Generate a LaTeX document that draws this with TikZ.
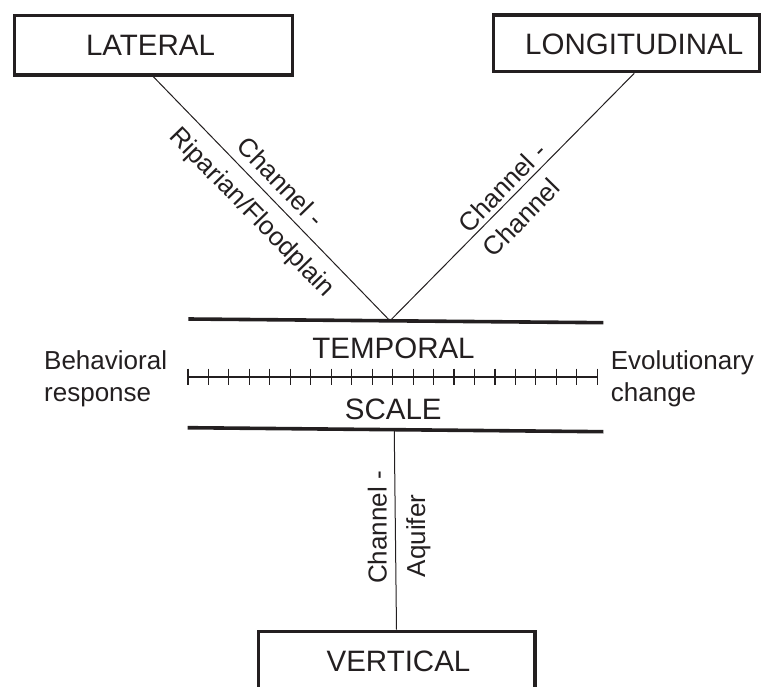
\documentclass[tikz,border=0pt]{standalone}
\usepackage{fontspec}
\setmainfont{Liberation Sans}
\definecolor{ink}{RGB}{35,31,32}
\begin{document}
\begin{tikzpicture}[x=1pt,y=-1pt,
  box/.style={draw=ink, line width=3.3pt, rectangle, inner sep=0pt},
  bar/.style={draw=ink, line width=3.6pt},
  thinline/.style={draw=ink, line width=1.1pt},
  conn/.style={draw=ink, line width=1pt},
  big/.style={inner sep=0pt, text=ink, font=\fontsize{29.5}{35}\selectfont},
  lbl/.style={inner sep=0pt, text=ink, font=\fontsize{26}{31}\selectfont}]
\useasboundingbox (0,0) rectangle (761,687);
\clip (0,0) rectangle (761,687);

% boxes
\node[box, minimum width=278pt, minimum height=59.3pt] (lat) at (153.3,45.35) {};
\node[box, minimum width=265.9pt, minimum height=56.7pt] (lon) at (626.25,43.35) {};
\node[box, minimum width=276.7pt, minimum height=88.7pt] (ver) at (396.5,675.65) {};

\node[big, anchor=base] (lattxt) at (150.5,56) {LATERAL};
\node[big, anchor=base] (lontxt) at (634.2,55) {LONGITUDINAL};
\node[big, anchor=base] (vertxt) at (398.5,671.7) {VERTICAL};

% temporal scale
\draw[bar] (188.3,319) -- coordinate[pos=0.486] (apex) (603.3,322.7);
\draw[bar] (187.7,427.7) -- coordinate[pos=0.497] (vtop) (603.3,431.7);
\draw[thinline] (188,377) -- (597.3,377);
\foreach \i in {0,...,20} \draw[thinline] ({188+\i*20.465},368.7) -- ++(0,16.6);

\node[big, anchor=base] (temp) at (393.5,358) {TEMPORAL};
\node[big, anchor=base] (scl) at (393.3,419) {SCALE};

\node[lbl, anchor=base west] (beh1) at (44,370) {Behavioral};
\node[lbl, anchor=base west] (beh2) at (44,401) {response};
\node[lbl, anchor=base west] (evo1) at (610.7,370) {Evolutionary};
\node[lbl, anchor=base west] (evo2) at (610.7,401) {change};

% connectors
\draw[conn] (lat.south) -- (apex);
\draw[conn] (lontxt |- lon.south) -- (apex);
\draw[conn] (vtop) -- (ver.north);

% connector labels
\node[lbl, anchor=base, rotate=-45.8] (latl1) at (274.3,188.3) {Channel -};
\node[lbl, anchor=base, rotate=-45.8] (latl2) at (246.8,218) {Riparian/Floodplain};
\node[lbl, anchor=base, rotate=45.5] (lonl1) at (508.6,193.8) {Channel -};
\node[lbl, anchor=base, rotate=45.5] (lonl2) at (527.8,224.4) {Channel};
\node[lbl, anchor=base, rotate=90] (verl1) at (386.7,527.5) {Channel -};
\node[lbl, anchor=base, rotate=90] (verl2) at (425,536) {Aquifer};
\end{tikzpicture}
\end{document}
